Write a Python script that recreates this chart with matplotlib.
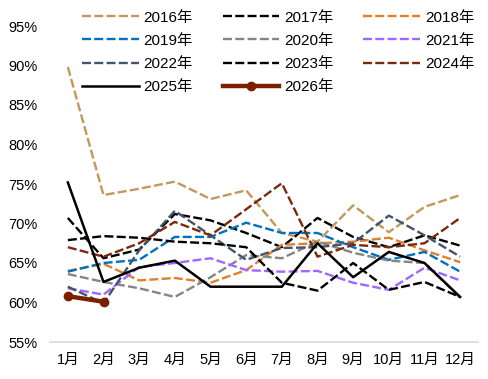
import numpy as np
import matplotlib.pyplot as plt

months = ['1月', '2月', '3月', '4月', '5月', '6月', '7月', '8月', '9月', '10月', '11月', '12月']

y2016 = [89.8, 73.6, 74.4, 75.3, 73.1, 74.2, 68.8, 67.7, 72.3, 68.9, 72.1, 73.6]
y2017 = [70.7, 65.6, 66.7, 71.2, 70.4, 68.8, 67.0, 70.7, 68.3, 67.0, 68.5, 67.2]
y2018 = [64.0, 64.9, 62.8, 63.1, 62.5, 64.1, 67.3, 67.5, 67.7, 68.2, 66.6, 65.1]
y2019 = [63.9, 65.0, 65.4, 68.3, 68.3, 70.1, 68.8, 68.8, 67.0, 65.4, 66.4, 63.9]
y2020 = [63.6, 62.6, 61.8, 60.7, 63.2, 66.0, 65.6, 67.7, 66.3, 65.3, 65.0, 60.6]
y2021 = [61.8, 61.0, 64.5, 65.0, 65.6, 64.1, 63.9, 64.0, 62.5, 61.6, 64.4, 62.8]
y2022 = [62.0, 59.9, 66.6, 71.6, 68.5, 65.4, 66.9, 67.0, 67.5, 71.0, 68.5, 65.8]
y2023 = [67.9, 68.4, 68.2, 67.7, 67.5, 67.0, 62.5, 61.5, 65.0, 61.6, 62.6, 60.7]
y2024 = [67.0, 65.8, 67.5, 70.2, 68.5, 71.8, 75.1, 65.8, 67.3, 67.0, 67.5, 70.7]
y2025 = [75.2, 62.6, 64.4, 65.3, 62.0, 62.0, 62.0, 67.5, 63.2, 66.4, 65.0, 60.7]
y2026 = [60.8, 60.1]

plt.rcParams['font.family'] = ['Liberation Sans', 'Noto Sans CJK SC']

fig = plt.figure(figsize=(4.88, 3.79), dpi=100)
ax = fig.add_axes([50 / 488, 37 / 379, 428 / 488, 316 / 379])

x = np.arange(1, 13)
dash = (0, (3.8, 1.4))
lw = 1.7

l16, = ax.plot(x, y2016, color='#C4975A', lw=lw, ls=dash, label='2016年')
l17, = ax.plot(x, y2017, color='#000000', lw=lw, ls=dash, label='2017年')
l18, = ax.plot(x, y2018, color='#E07F2C', lw=lw, ls=dash, label='2018年')
l19, = ax.plot(x, y2019, color='#0070C0', lw=lw, ls=dash, label='2019年')
l20, = ax.plot(x, y2020, color='#858585', lw=lw, ls=dash, label='2020年')
l21, = ax.plot(x, y2021, color='#A066FF', lw=lw, ls=dash, label='2021年')
l22, = ax.plot(x, y2022, color='#44546A', lw=lw, ls=dash, label='2022年')
l23, = ax.plot(x, y2023, color='#000000', lw=lw, ls=dash, label='2023年')
l24, = ax.plot(x, y2024, color='#7A2A0C', lw=lw, ls=dash, label='2024年')
l25, = ax.plot(x, y2025, color='#000000', lw=1.8, label='2025年')
l26, = ax.plot(x[:len(y2026)], y2026, color='#7A2000', lw=3.2, marker='o', markersize=6, label='2026年')

ax.set_xlim(0.5, 12.5)
ax.set_ylim(55, 95)
ax.set_xticks(x)
ax.set_xticklabels(months)
ax.set_yticks(np.arange(55, 96, 5))
ax.set_yticklabels([f'{v}%' for v in range(55, 96, 5)])
ax.tick_params(length=0, labelsize=10.5, pad=8)
ax.tick_params(axis='y', pad=9)
for s in ['top', 'right', 'left']:
    ax.spines[s].set_visible(False)
ax.spines['bottom'].set_color('#D9D9D9')
ax.spines['bottom'].set_linewidth(1.2)

# legend is column-major in matplotlib, so reorder to read row by row
handles = [l16, l19, l22, l25, l17, l20, l23, l26, l18, l21, l24]
fig.legend(handles=handles, loc='upper left', bbox_to_anchor=(0.168, 0.972), ncol=3, frameon=False,
           fontsize=11, handlelength=3.7, handletextpad=0.33, columnspacing=1.95,
           labelspacing=0.6, borderpad=0, borderaxespad=0)

fig.savefig('out.png', dpi=100)
